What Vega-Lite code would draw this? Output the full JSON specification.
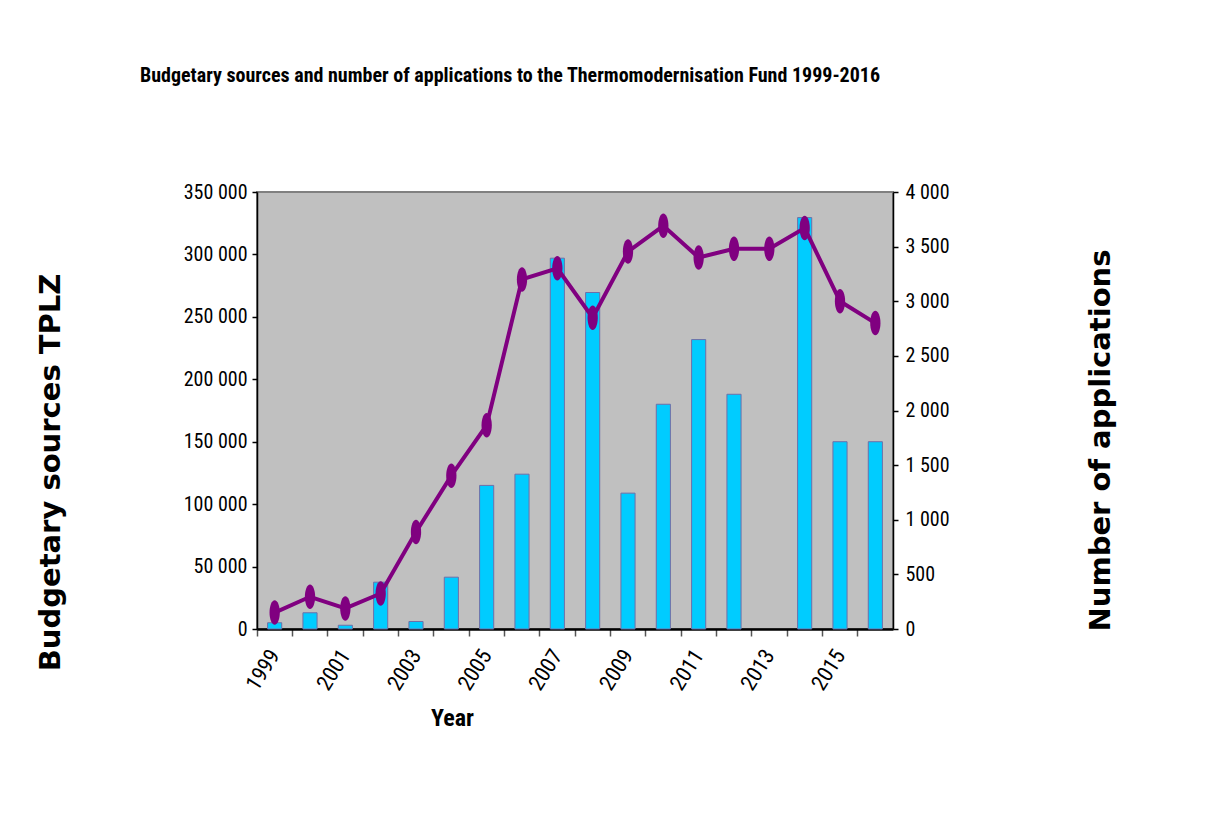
{
  "$schema": "https://vega.github.io/schema/vega-lite/v6.json",
  "width": 636,
  "height": 437,
  "autosize": {"type": "none"},
  "padding": {"left": 257, "top": 192, "right": 313, "bottom": 187},
  "background": "white",
  "title": {
    "text": "Budgetary sources and number of applications to the Thermomodernisation  Fund 1999-2016",
    "anchor": "start",
    "frame": "group",
    "dx": -117,
    "offset": 80,
    "baseline": "alphabetic",
    "font": "Liberation Sans Narrow, Roboto Condensed, Liberation Sans",
    "fontSize": 20,
    "fontWeight": "bold",
    "color": "black"
  },
  "config": {
    "view": {"fill": "#C0C0C0", "stroke": "#808080", "strokeWidth": 2},
    "axis": {
      "labelFont": "Liberation Sans Narrow, Roboto Condensed, Liberation Sans",
      "labelColor": "black",
      "titleColor": "black",
      "domainColor": "black",
      "tickColor": "black",
      "grid": false
    }
  },
  "data": {
    "values": [
      {"year": 1999, "budget": 5000, "applications": 150},
      {"year": 2000, "budget": 13000, "applications": 295},
      {"year": 2001, "budget": 3000, "applications": 188},
      {"year": 2002, "budget": 37500, "applications": 325},
      {"year": 2003, "budget": 6000, "applications": 888},
      {"year": 2004, "budget": 41500, "applications": 1403},
      {"year": 2005, "budget": 115000, "applications": 1865},
      {"year": 2006, "budget": 124000, "applications": 3200},
      {"year": 2007, "budget": 297000, "applications": 3302},
      {"year": 2008, "budget": 269500, "applications": 2850},
      {"year": 2009, "budget": 108800, "applications": 3455},
      {"year": 2010, "budget": 180000, "applications": 3690},
      {"year": 2011, "budget": 231800, "applications": 3400},
      {"year": 2012, "budget": 188000, "applications": 3480},
      {"year": 2013, "budget": null, "applications": 3480},
      {"year": 2014, "budget": 329500, "applications": 3670},
      {"year": 2015, "budget": 150000, "applications": 3000},
      {"year": 2016, "budget": 150000, "applications": 2800}
    ]
  },
  "encoding": {
    "x": {
      "field": "year",
      "type": "ordinal",
      "scale": {"paddingInner": 0.6, "paddingOuter": 0.3},
      "axis": {
        "title": "Year",
        "titleFont": "Liberation Sans Narrow, Roboto Condensed, Liberation Sans",
        "titleFontSize": 24,
        "titleFontWeight": "bold",
        "titleX": 195,
        "titleY": 89,
        "titleAlign": "center",
        "titleBaseline": "middle",
        "labelAngle": -58,
        "labelAlign": "right",
        "labelBaseline": "middle",
        "labelFontSize": 22,
        "labelPadding": 15,
        "labelExpr": "(datum.value - 1999) % 2 == 0 ? datum.label : ''",
        "bandPosition": -0.75,
        "tickSize": 7,
        "tickWidth": 1.5,
        "tickColor": "#555555",
        "domainWidth": 2.5
      }
    }
  },
  "layer": [
    {
      "mark": {"type": "bar", "fill": "#00CCFF", "stroke": "#6F6FA8", "strokeWidth": 1},
      "encoding": {
        "y": {
          "field": "budget",
          "type": "quantitative",
          "scale": {"domain": [0, 350000], "nice": false},
          "axis": {
            "title": "Budgetary sources TPLZ",
            "titleFont": "DejaVu Sans",
            "titleFontSize": 29,
            "titleFontWeight": "bold",
            "titleAngle": -90,
            "titleX": -207,
            "titleY": 280,
            "titleAlign": "center",
            "titleBaseline": "middle",
            "values": [0, 50000, 100000, 150000, 200000, 250000, 300000, 350000],
            "labelExpr": "replace(format(datum.value, ','), ',', ' ')",
            "labelFontSize": 20,
            "labelPadding": 5,
            "tickSize": 5,
            "tickWidth": 1.5,
            "domainWidth": 1.5
          }
        }
      }
    },
    {
      "encoding": {
        "y": {
          "field": "applications",
          "type": "quantitative",
          "scale": {"domain": [0, 4000], "nice": false},
          "axis": {
            "orient": "right",
            "title": "Number of applications",
            "titleFont": "DejaVu Sans",
            "titleFontSize": 29,
            "titleFontWeight": "bold",
            "titleAngle": -90,
            "titleX": 207,
            "titleY": 248,
            "titleAlign": "center",
            "titleBaseline": "middle",
            "values": [0, 500, 1000, 1500, 2000, 2500, 3000, 3500, 4000],
            "labelExpr": "replace(format(datum.value, ','), ',', ' ')",
            "labelFontSize": 20,
            "labelPadding": 7,
            "tickSize": 5,
            "tickWidth": 1.5,
            "domainWidth": 1.5
          }
        }
      },
      "layer": [
        {"mark": {"type": "line", "color": "#800080", "strokeWidth": 4}},
        {
          "mark": {
            "type": "point",
            "shape": "M0,-1A0.42,1 0 1,1 0,1A0.42,1 0 1,1 0,-1Z",
            "filled": true,
            "size": 600,
            "color": "#800080",
            "opacity": 1
          }
        }
      ]
    }
  ],
  "resolve": {"scale": {"y": "independent"}}
}
